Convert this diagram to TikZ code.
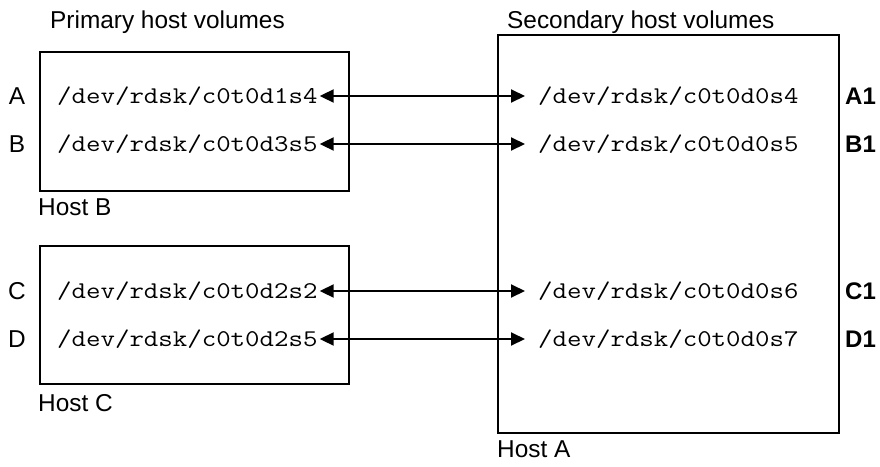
\documentclass[tikz,border=0pt]{standalone}
\usepackage{fontspec}
\setmainfont{Liberation Sans}
\newfontfamily\monof[FakeStretch=1.17]{Latin Modern Mono}
\usetikzlibrary{arrows.meta}
\begin{document}
\begin{tikzpicture}[x=1pt,y=-1pt,
  hostbox/.style={draw,line width=2pt},
  lbl/.style={inner sep=0pt,font=\fontsize{24.4}{28}\selectfont},
  tag/.style={inner sep=0pt,anchor=west,font=\fontsize{24}{28}\selectfont\bfseries},
  vol/.style={inner sep=0pt,font=\monof\fontsize{24}{28}\selectfont},
  link/.style={line width=2pt,{Triangle[length=14pt,width=13pt]}-{Triangle[length=14pt,width=13pt]}}]
\useasboundingbox[fill=white] (0,0) rectangle (880,466);
% boxes
\draw[hostbox] (40,52) rectangle (349,191);
\draw[hostbox] (40,246) rectangle (349,384);
\draw[hostbox] (498,35) rectangle (839,433);
% headings
\node[lbl,anchor=base west] (ph) at (50,28) {Primary host volumes};
\node[lbl,anchor=base west] (sh) at (507,28) {Secondary host volumes};
\node[lbl,anchor=west] (hb) at (38,207) {Host B};
\node[lbl,anchor=west] (hc) at (38,403) {Host C};
\node[lbl,anchor=west] (ha) at (497,449) {Host A};
% row labels
\node[lbl] (la) at (17,96) {A};
\node[lbl] (lb) at (17,144) {B};
\node[lbl] (lc) at (17,291) {C};
\node[lbl] (ld) at (17,339) {D};
\node[tag] (ra) at (845,96) {A1};
\node[tag] (rb) at (845,144) {B1};
\node[tag] (rc) at (845,291) {C1};
\node[tag] (rd) at (845,339) {D1};
% volumes
\node[vol,anchor=west] (v1) at (57,96) {/dev/rdsk/c0t0d1s4};
\node[vol,anchor=west] (v2) at (57,144) {/dev/rdsk/c0t0d3s5};
\node[vol,anchor=west] (v3) at (57,291) {/dev/rdsk/c0t0d2s2};
\node[vol,anchor=west] (v4) at (57,339) {/dev/rdsk/c0t0d2s5};
\node[vol,anchor=west] (w1) at (538,96) {/dev/rdsk/c0t0d0s4};
\node[vol,anchor=west] (w2) at (538,144) {/dev/rdsk/c0t0d0s5};
\node[vol,anchor=west] (w3) at (538,291) {/dev/rdsk/c0t0d0s6};
\node[vol,anchor=west] (w4) at (538,339) {/dev/rdsk/c0t0d0s7};
% links
\foreach \a/\b in {v1/w1,v2/w2,v3/w3,v4/w4}
  \draw[link] ([xshift=2pt]\a.east) -- ([xshift=-13pt]\b.west);
\end{tikzpicture}
\end{document}
